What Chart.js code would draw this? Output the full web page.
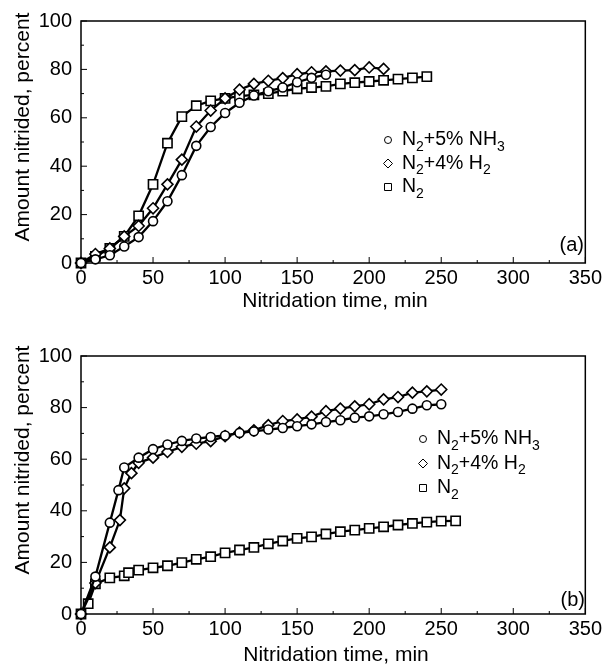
<!DOCTYPE html>
<html>
<head>
<meta charset="utf-8">
<script src="https://cdn.jsdelivr.net/npm/chart.js@4.4.1/dist/chart.umd.min.js"></script>
<style>
  html, body { margin: 0; padding: 0; background: #fff; }
  #wrap { position: relative; width: 605px; height: 666px; }
  .panel { position: absolute; left: 0; width: 605px; }
</style>
</head>
<body>
<div id="wrap">
  <div class="panel" style="top:0;height:330px"><canvas id="chartA"></canvas></div>
  <div class="panel" style="top:330px;height:336px"><canvas id="chartB"></canvas></div>
</div>
<script>
// ---- data ----
// panel (a)
const aTimeNH3 = [0, 10, 20, 30, 40, 50, 60, 70, 80, 90, 100, 110, 120, 130, 140, 150, 160, 170];
const aNH3     = [0, 1.5, 3.2, 6.8, 10.7, 17.3, 25.5, 36.3, 48.4, 56.2, 62, 66.2, 69.2, 71, 72.5, 74.7, 76.5, 77.8];
const aTimeH2  = [0, 10, 20, 30, 40, 50, 60, 70, 80, 90, 100, 110, 120, 130, 140, 150, 160, 170, 180, 190, 200, 210];
const aH2      = [0, 3.7, 6, 11, 15.3, 22.6, 32.5, 42.7, 56.4, 63, 68, 71.6, 74, 75.3, 76.4, 78, 78.8, 79.2, 79.5, 79.7, 80.8, 80.2];
const aTimeN2  = [0, 10, 20, 30, 40, 50, 60, 70, 80, 90, 100, 110, 120, 130, 140, 150, 160, 170, 180, 190, 200, 210, 220, 230, 240];
const aN2      = [0, 2.7, 6, 11, 19.5, 32.5, 49.5, 60.5, 65, 67, 68, 69, 69.5, 70, 71, 72, 72.5, 73, 74, 74.5, 75, 75.5, 76, 76.5, 77];

// panel (b)
const bTimeNH3 = [0, 10, 20, 26, 30, 40, 50, 60, 70, 80, 90, 100, 110, 120, 130, 140, 150, 160, 170, 180, 190, 200, 210, 220, 230, 240, 250];
const bNH3     = [0, 14.5, 35.4, 48, 56.8, 60.6, 63.9, 65.7, 67.1, 68, 68.6, 69.2, 70.2, 70.8, 71.5, 72.1, 72.8, 73.5, 74.4, 75.1, 76.1, 76.6, 77.4, 78.3, 79.6, 80.9, 81.3];
const bTimeH2  = [0, 10, 20, 27, 30, 35, 40, 50, 60, 70, 80, 90, 100, 110, 120, 130, 140, 150, 160, 170, 180, 190, 200, 210, 220, 230, 240, 250];
const bH2      = [0, 12, 25.8, 36.4, 48.7, 54.6, 58.6, 60.6, 62.8, 64.8, 66, 67, 68.9, 70.3, 71.2, 73.2, 74.8, 75.4, 76.5, 78.6, 79.6, 80.5, 81.3, 83.2, 84.1, 85.8, 86.3, 87];
const bTimeN2  = [0, 5, 10, 20, 30, 33, 40, 50, 60, 70, 80, 90, 100, 110, 120, 130, 140, 150, 160, 170, 180, 190, 200, 210, 220, 230, 240, 250, 260];
const bN2      = [0, 4, 11.7, 14, 14.8, 16, 17, 17.9, 18.7, 19.9, 21.2, 22.2, 23.7, 24.8, 25.8, 27.2, 28.3, 29.3, 29.9, 31, 31.9, 32.5, 33.2, 33.8, 34.5, 35.1, 35.6, 36, 36.1];

// axes
const xTicksMajor = [0, 50, 100, 150, 200, 250, 300, 350];
const xTicksMinor = [25, 75, 125, 175, 225, 275, 325];
const yTicksMajor = [0, 20, 40, 60, 80, 100];
const yTicksMinor = [10, 30, 50, 70, 90];
const xTitle = 'Nitridation time, min';
const yTitle = 'Amount nitrided, percent';

// legend entries: [text, isSubscript]
const legendNames = [
  [['N', 0], ['2', 1], ['+5% NH', 0], ['3', 1]],
  [['N', 0], ['2', 1], ['+4% H', 0], ['2', 1]],
  [['N', 0], ['2', 1]]
];
const legendStyles = ['circle', 'rectRot', 'rect'];

const FONT = "'Liberation Sans', Arial, Helvetica, sans-serif";
Chart.defaults.font.family = FONT;
Chart.defaults.color = '#000';

function pairs(xs, ys) {
  return xs.map((x, i) => ({ x: x, y: ys[i] }));
}

function line(label, xs, ys, style, radius) {
  return {
    label: label,
    data: pairs(xs, ys),
    showLine: true,
    borderColor: '#000',
    borderWidth: 2.3,
    pointStyle: style,
    pointRadius: radius,
    pointHoverRadius: radius,
    pointBackgroundColor: '#fff',
    pointBorderColor: '#000',
    pointBorderWidth: 1.6,
    clip: false
  };
}

// small legend marker
function marker(ctx, style, x, y) {
  ctx.save();
  ctx.beginPath();
  if (style === 'circle') {
    ctx.arc(x, y, 3.5, 0, Math.PI * 2);
  } else if (style === 'rectRot') {
    ctx.moveTo(x - 4.5, y); ctx.lineTo(x, y - 4.5); ctx.lineTo(x + 4.5, y); ctx.lineTo(x, y + 4.5);
    ctx.closePath();
  } else {
    ctx.rect(x - 3.5, y - 3.5, 7, 7);
  }
  ctx.fillStyle = '#fff';
  ctx.fill();
  ctx.strokeStyle = '#000';
  ctx.lineWidth = 1;
  ctx.stroke();
  ctx.restore();
}

function rich(ctx, parts, x, y) {
  parts.forEach(([t, sub]) => {
    ctx.font = (sub ? '14px ' : '19.5px ') + FONT;
    ctx.fillText(t, x, sub ? y + 7 : y);
    x += ctx.measureText(t).width;
  });
}

// frame, inward ticks, titles, legend, panel tag
const decor = {
  id: 'decor',
  beforeDatasetsDraw(chart) {
    const { ctx, chartArea: a, scales } = chart;
    ctx.save();
    ctx.strokeStyle = '#000';
    ctx.lineWidth = 1.5;
    ctx.strokeRect(a.left, a.top, a.right - a.left, a.bottom - a.top);
    ctx.lineWidth = 1;
    ctx.beginPath();
    xTicksMajor.forEach(v => { const p = scales.x.getPixelForValue(v); ctx.moveTo(p, a.bottom); ctx.lineTo(p, a.bottom - 6); });
    xTicksMinor.forEach(v => { const p = scales.x.getPixelForValue(v); ctx.moveTo(p, a.bottom); ctx.lineTo(p, a.bottom - 3); });
    yTicksMajor.forEach(v => { const p = scales.y.getPixelForValue(v); ctx.moveTo(a.left, p); ctx.lineTo(a.left + 6, p); });
    yTicksMinor.forEach(v => { const p = scales.y.getPixelForValue(v); ctx.moveTo(a.left, p); ctx.lineTo(a.left + 3, p); });
    ctx.stroke();
    ctx.restore();
  },
  afterDraw(chart, args, o) {
    const ctx = chart.ctx;
    ctx.save();
    ctx.fillStyle = '#000';
    ctx.textBaseline = 'middle';

    ctx.font = '21px ' + FONT;
    ctx.textAlign = 'center';
    ctx.fillText(xTitle, o.xTitle[0], o.xTitle[1]);
    ctx.save();
    ctx.translate(o.yTitle[0], o.yTitle[1]);
    ctx.rotate(-Math.PI / 2);
    ctx.fillText(yTitle, 0, 0);
    ctx.restore();

    ctx.font = '20px ' + FONT;
    ctx.textAlign = 'right';
    ctx.fillText(o.tag, o.tagPos[0], o.tagPos[1]);

    ctx.textAlign = 'left';
    legendNames.forEach((parts, i) => {
      const y = o.legend[1] + i * o.legendGap;
      marker(ctx, legendStyles[i], o.legend[0], y);
      ctx.fillStyle = '#000';
      rich(ctx, parts, o.legend[0] + 14, y);
    });
    ctx.restore();
  }
};

function makeChart(id, sets, pad, xHeight, deco) {
  return new Chart(document.getElementById(id), {
    type: 'scatter',
    data: { datasets: sets },
    options: {
      responsive: true,
      maintainAspectRatio: false,
      animation: false,
      layout: { padding: { top: pad.top, right: pad.right, left: 0, bottom: 0 } },
      plugins: {
        legend: { display: false },
        tooltip: { enabled: false },
        decor: deco
      },
      scales: {
        x: {
          type: 'linear',
          min: 0,
          max: 350,
          afterBuildTicks: s => { s.ticks = xTicksMajor.map(v => ({ value: v })); },
          afterFit: s => { s.height = xHeight; },
          ticks: { autoSkip: false, maxRotation: 0, padding: 3, font: { size: 20 } },
          grid: { display: false, drawTicks: false },
          border: { display: false }
        },
        y: {
          min: 0,
          max: 100,
          afterBuildTicks: s => { s.ticks = yTicksMajor.map(v => ({ value: v })); },
          afterFit: s => { s.width = 81; },
          ticks: { padding: 9, font: { size: 20 } },
          grid: { display: false, drawTicks: false },
          border: { display: false }
        }
      }
    },
    plugins: [decor]
  });
}

makeChart('chartA', [
  line('N2+5% NH3', aTimeNH3, aNH3, 'circle', 4.5),
  line('N2+4% H2', aTimeH2, aH2, 'rectRot', 5.5),
  line('N2', aTimeN2, aN2, 'rect', 6.5)
], { top: 20, right: 15 }, 67, {
  xTitle: [335, 301], yTitle: [23, 127], tag: '(a)', tagPos: [584, 245],
  legend: [388, 140], legendGap: 23.5
});

makeChart('chartB', [
  line('N2+5% NH3', bTimeNH3, bNH3, 'circle', 4.5),
  line('N2+4% H2', bTimeH2, bH2, 'rectRot', 5.5),
  line('N2', bTimeN2, bN2, 'rect', 6.5)
], { top: 26, right: 13 }, 52, {
  xTitle: [336, 325], yTitle: [23, 130], tag: '(b)', tagPos: [585, 270],
  legend: [423, 109], legendGap: 24.5
});
</script>
</body>
</html>
